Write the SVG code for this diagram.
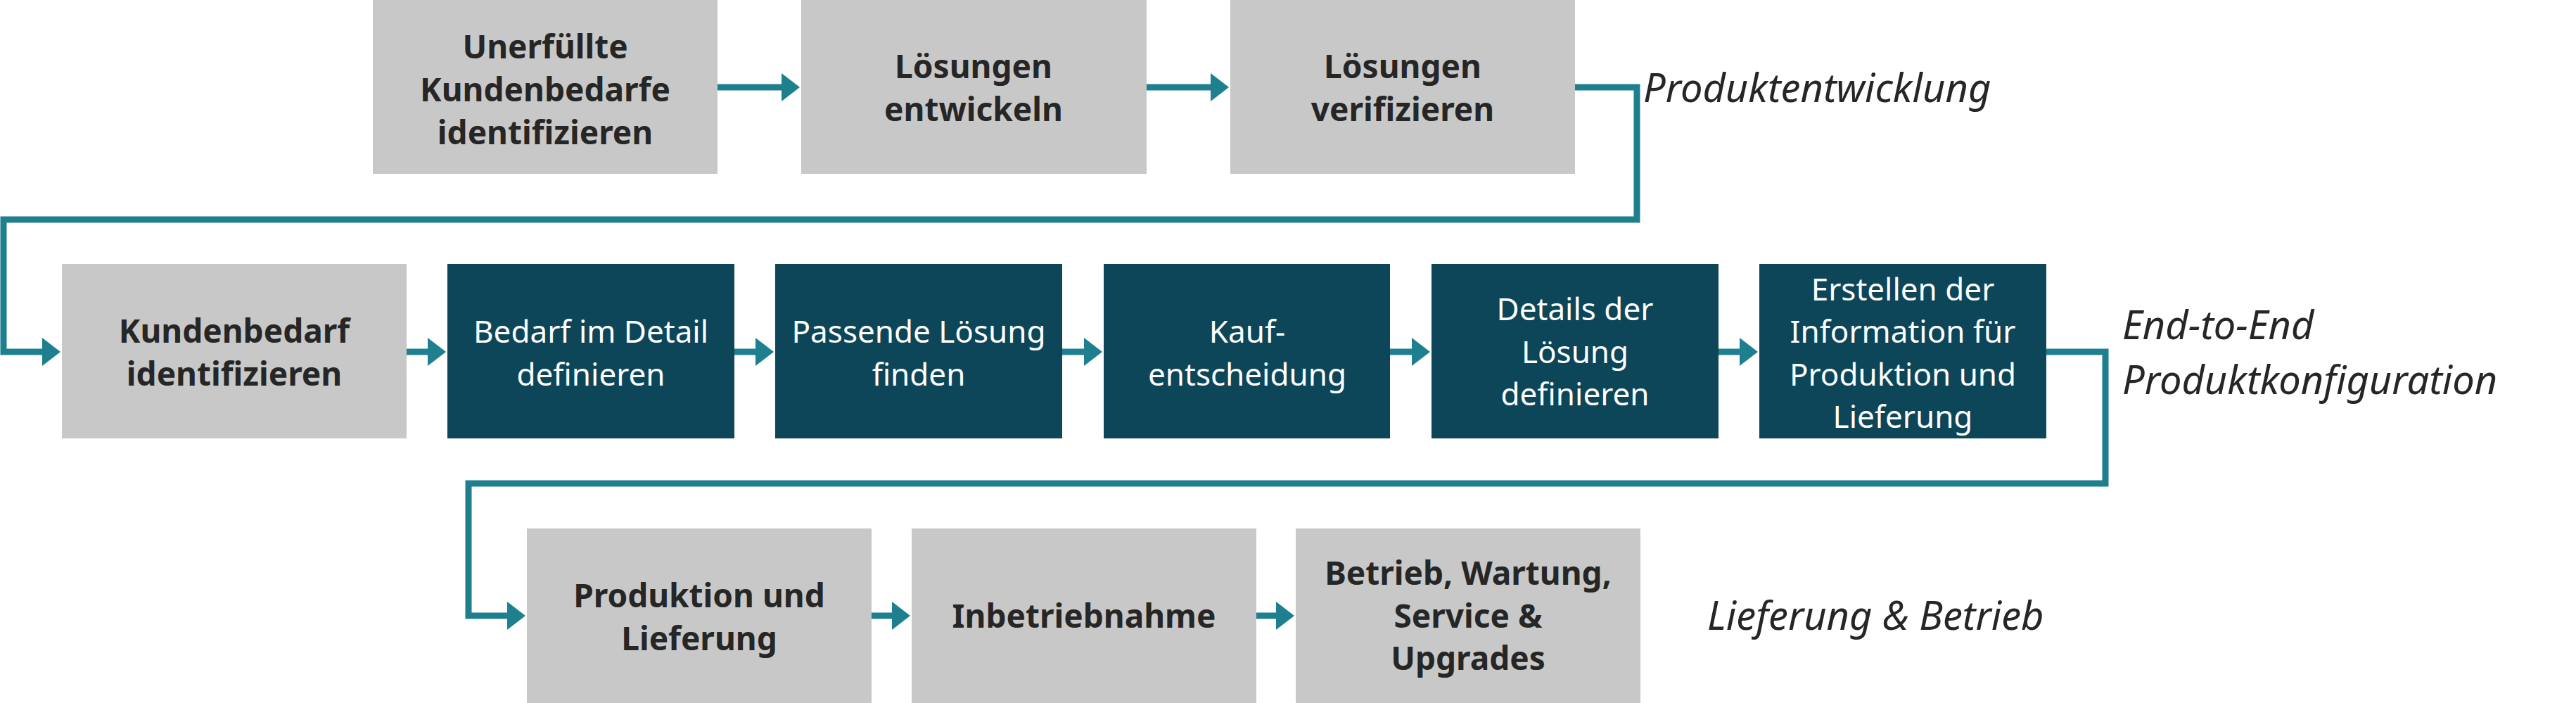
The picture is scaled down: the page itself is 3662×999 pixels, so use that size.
<svg xmlns="http://www.w3.org/2000/svg" width="3662" height="999" viewBox="0 0 3662 999">
<style>
.g{fill:#c8c8c8}.d{fill:#0c4658}
.b{font-family:"Noto Sans","Open Sans",sans-serif;font-weight:bold;font-size:46px;fill:#262626;text-anchor:middle}
.w{font-family:"Noto Sans","Open Sans",sans-serif;font-size:44px;fill:#fff;text-anchor:middle}
.l{font-family:"Noto Sans","Open Sans",sans-serif;font-style:italic;font-size:56px;fill:#262626}
.c{fill:none;stroke:#1e7f8e;stroke-width:9}
</style>
<defs><marker id="a" markerUnits="userSpaceOnUse" markerWidth="26" markerHeight="40" refX="2" refY="20" orient="auto"><path d="M0,0L26,20L0,40Z" fill="#1e7f8e"/></marker></defs>
<rect width="3662" height="999" fill="#fff"/>
<g id="connectors">
<path class="c" marker-end="url(#a)" d="M1020,124H1113"/>
<path class="c" marker-end="url(#a)" d="M1630,124H1723"/>
<path class="c" marker-end="url(#a)" d="M2239,124H2327V312H5V500H62"/>
<path class="c" marker-end="url(#a)" d="M578,500H610"/>
<path class="c" marker-end="url(#a)" d="M1044,500H1076"/>
<path class="c" marker-end="url(#a)" d="M1510,500H1543"/>
<path class="c" marker-end="url(#a)" d="M1976,500H2009"/>
<path class="c" marker-end="url(#a)" d="M2443,500H2475"/>
<path class="c" marker-end="url(#a)" d="M2909,500H2993V687H666V875H723"/>
<path class="c" marker-end="url(#a)" d="M1239,875H1270"/>
<path class="c" marker-end="url(#a)" d="M1786,875H1816"/>
</g>
<g id="n1"><rect class="g" x="530" y="0" width="490" height="247"/><text class="b" x="775"><tspan x="775" y="83">Unerfüllte</tspan><tspan x="775" y="144">Kundenbedarfe</tspan><tspan x="775" y="205">identifizieren</tspan></text></g>
<g id="n2"><rect class="g" x="1139" y="0" width="491" height="247"/><text class="b"><tspan x="1384" y="111">Lösungen</tspan><tspan x="1384" y="172">entwickeln</tspan></text></g>
<g id="n3"><rect class="g" x="1749" y="0" width="490" height="247"/><text class="b"><tspan x="1994" y="111">Lösungen</tspan><tspan x="1994" y="172">verifizieren</tspan></text></g>
<g id="n4"><rect class="g" x="88" y="375" width="490" height="248"/><text class="b"><tspan x="333" y="487">Kundenbedarf</tspan><tspan x="333" y="548">identifizieren</tspan></text></g>
<g id="n5"><rect class="d" x="636" y="375" width="408" height="248"/><text class="w"><tspan x="840" y="487">Bedarf im Detail</tspan><tspan x="840" y="548">definieren</tspan></text></g>
<g id="n6"><rect class="d" x="1102" y="375" width="408" height="248"/><text class="w"><tspan x="1306" y="487">Passende Lösung</tspan><tspan x="1306" y="548">finden</tspan></text></g>
<g id="n7"><rect class="d" x="1569" y="375" width="407" height="248"/><text class="w"><tspan x="1773" y="487">Kauf-</tspan><tspan x="1773" y="548">entscheidung</tspan></text></g>
<g id="n8"><rect class="d" x="2035" y="375" width="408" height="248"/><text class="w"><tspan x="2239" y="455">Details der</tspan><tspan x="2239" y="516">Lösung</tspan><tspan x="2239" y="576">definieren</tspan></text></g>
<g id="n9"><rect class="d" x="2501" y="375" width="408" height="248"/><text class="w"><tspan x="2705" y="427">Erstellen der</tspan><tspan x="2705" y="487">Information für</tspan><tspan x="2705" y="548">Produktion und</tspan><tspan x="2705" y="608">Lieferung</tspan></text></g>
<g id="n10"><rect class="g" x="749" y="751" width="490" height="248"/><text class="b"><tspan x="994" y="863">Produktion und</tspan><tspan x="994" y="924">Lieferung</tspan></text></g>
<g id="n11"><rect class="g" x="1296" y="751" width="490" height="248"/><text class="b" x="1541" y="892">Inbetriebnahme</text></g>
<g id="n12"><rect class="g" x="1842" y="751" width="490" height="248"/><text class="b"><tspan x="2087" y="831">Betrieb, Wartung,</tspan><tspan x="2087" y="892">Service &amp;</tspan><tspan x="2087" y="952">Upgrades</tspan></text></g>
<g id="labels">
<text class="l" x="2336" y="145">Produktentwicklung</text>
<text class="l"><tspan x="3017" y="482">End-to-End</tspan><tspan x="3017" y="560">Produktkonfiguration</tspan></text>
<text class="l" x="2427" y="895">Lieferung &amp; Betrieb</text>
</g>
</svg>
